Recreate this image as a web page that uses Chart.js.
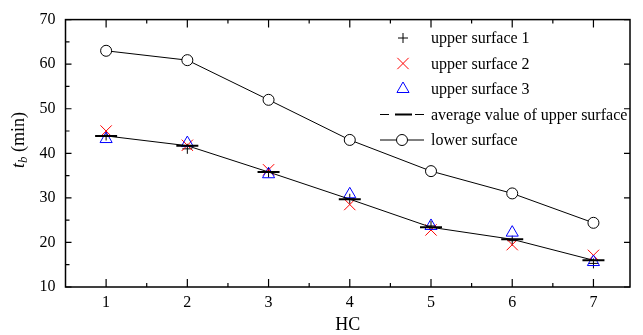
<!DOCTYPE html>
<html>
<head>
<meta charset="utf-8">
<script src="https://cdn.jsdelivr.net/npm/chart.js"></script>
<style>
  html, body { margin: 0; padding: 0; background: #fff; }
  #wrap { width: 643px; height: 335px; }
</style>
</head>
<body>
<div id="wrap"><canvas id="tb-chart"></canvas></div>
<script>
// HC 번호 (x축)
const hc = [1, 2, 3, 4, 5, 6, 7];
// 상부 표면 측정값 (min)
const upper1 = [44.0, 41.0, 35.7, 29.8, 23.7, 20.4, 15.3];
const upper2 = [45.0, 41.8, 36.3, 28.5, 22.8, 19.5, 17.1];
const upper3 = [43.2, 42.3, 35.3, 30.8, 23.7, 22.2, 15.6];
const upperAvg = [43.9, 41.7, 35.8, 29.7, 23.4, 20.7, 16.0];
// 하부 표면 (min)
const lower = [63.0, 60.9, 52.0, 43.0, 36.0, 31.0, 24.4];
// 축 눈금
const yTicks = [10, 20, 30, 40, 50, 60, 70];
const yMinor = [15, 25, 35, 45, 55, 65];
const xMinor = [1.5, 2.5, 3.5, 4.5, 5.5, 6.5];

const SERIF = "'Liberation Serif', 'DejaVu Serif', serif";

function toPoints(values) {
  return hc.map((x, i) => ({ x: x, y: values[i] }));
}

const legendItems = [
  { label: 'upper surface 1', style: 'cross', radius: 5, color: '#000' },
  { label: 'upper surface 2', style: 'crossRot', radius: 8, color: '#ff0000' },
  { label: 'upper surface 3', style: 'triangle', radius: 7, color: '#0000ff' },
  { label: 'average value of upper surface', style: 'avg', color: '#000' },
  { label: 'lower surface', style: 'lower', color: '#000' }
];

// 축 테두리, 안쪽 눈금, 범례, 축 제목을 그리는 플러그인
const framePlugin = {
  id: 'frame',
  afterDraw(chart) {
    const ctx = chart.ctx;
    const area = chart.chartArea;
    const xs = chart.scales.x;
    const ys = chart.scales.y;
    ctx.save();
    ctx.strokeStyle = '#000';
    ctx.lineWidth = 1.5;
    ctx.strokeRect(area.left, area.top, area.right - area.left, area.bottom - area.top);

    ctx.lineWidth = 1.2;
    ctx.beginPath();
    hc.forEach(v => {
      const px = xs.getPixelForValue(v);
      ctx.moveTo(px, area.bottom); ctx.lineTo(px, area.bottom - 8);
      ctx.moveTo(px, area.top); ctx.lineTo(px, area.top + 8);
    });
    xMinor.forEach(v => {
      const px = xs.getPixelForValue(v);
      ctx.moveTo(px, area.bottom); ctx.lineTo(px, area.bottom - 4);
      ctx.moveTo(px, area.top); ctx.lineTo(px, area.top + 4);
    });
    yTicks.forEach(v => {
      const py = ys.getPixelForValue(v);
      ctx.moveTo(area.left, py); ctx.lineTo(area.left + 6, py);
      ctx.moveTo(area.right, py); ctx.lineTo(area.right - 6, py);
    });
    yMinor.forEach(v => {
      const py = ys.getPixelForValue(v);
      ctx.moveTo(area.left, py); ctx.lineTo(area.left + 4, py);
    });
    ctx.stroke();

    // 범례
    const mx = 403, tx = 431;
    ctx.font = '16px ' + SERIF;
    ctx.textBaseline = 'middle';
    legendItems.forEach((item, i) => {
      const y = 38 + i * 25.5;
      ctx.strokeStyle = item.color;
      ctx.lineWidth = 1;
      if (item.style === 'avg') {
        ctx.beginPath();
        ctx.moveTo(380, y); ctx.lineTo(389, y);
        ctx.moveTo(415, y); ctx.lineTo(424, y);
        ctx.stroke();
        ctx.lineWidth = 2;
        ctx.beginPath();
        ctx.moveTo(395, y); ctx.lineTo(412, y);
        ctx.stroke();
      } else if (item.style === 'lower') {
        ctx.beginPath();
        ctx.moveTo(380, y); ctx.lineTo(396, y);
        ctx.moveTo(408, y); ctx.lineTo(424, y);
        ctx.stroke();
        ctx.beginPath();
        ctx.arc(402, y, 5.5, 0, Math.PI * 2);
        ctx.stroke();
      } else {
        ctx.fillStyle = 'rgba(0,0,0,0)';
        Chart.helpers.drawPoint(ctx, {
          pointStyle: item.style, radius: item.radius, rotation: 0, borderWidth: 1
        }, mx, y);
      }
      ctx.fillStyle = '#000';
      ctx.fillText(item.label, tx, y + 1);
    });

    // x축 제목
    ctx.fillStyle = '#000';
    ctx.textAlign = 'center';
    ctx.font = '18px ' + SERIF;
    ctx.fillText('HC', (area.left + area.right) / 2, 325);

    // y축 제목: t_b (min)
    ctx.translate(19, 140);
    ctx.rotate(-Math.PI / 2);
    ctx.textAlign = 'left';
    const fItal = 'italic 18px ' + SERIF;
    const fSub = 'italic 13px ' + SERIF;
    const fReg = '18px ' + SERIF;
    ctx.font = fItal; const w1 = ctx.measureText('t').width;
    ctx.font = fSub; const w2 = ctx.measureText('b').width;
    ctx.font = fReg; const w3 = ctx.measureText(' (min)').width;
    let x0 = -(w1 + w2 + w3) / 2;
    ctx.font = fItal; ctx.fillText('t', x0, 0);
    ctx.font = fSub; ctx.fillText('b', x0 + w1, 5);
    ctx.font = fReg; ctx.fillText(' (min)', x0 + w1 + w2, 0);
    ctx.restore();
  }
};

new Chart(document.getElementById('tb-chart'), {
  type: 'scatter',
  data: {
    datasets: [
      {
        label: 'average value of upper surface',
        data: toPoints(upperAvg),
        showLine: true,
        borderColor: '#000',
        borderWidth: 1,
        pointStyle: 'line',
        pointRadius: 11,
        pointBorderWidth: 2,
        pointBorderColor: '#000',
        order: 0
      },
      {
        label: 'lower surface',
        data: toPoints(lower),
        showLine: true,
        borderColor: '#000',
        borderWidth: 1,
        pointStyle: 'circle',
        pointRadius: 5.5,
        pointBorderWidth: 1,
        pointBackgroundColor: '#fff',
        pointBorderColor: '#000',
        order: 1
      },
      {
        label: 'upper surface 3',
        data: toPoints(upper3),
        pointStyle: 'triangle',
        pointRadius: 7,
        pointBorderWidth: 1,
        pointBorderColor: '#0000ff',
        pointBackgroundColor: 'rgba(0,0,0,0)',
        order: 2
      },
      {
        label: 'upper surface 2',
        data: toPoints(upper2),
        pointStyle: 'crossRot',
        pointRadius: 8,
        pointBorderWidth: 1,
        pointBorderColor: '#ff0000',
        order: 3
      },
      {
        label: 'upper surface 1',
        data: toPoints(upper1),
        pointStyle: 'cross',
        pointRadius: 5,
        pointBorderWidth: 1,
        pointBorderColor: '#000',
        order: 4
      }
    ]
  },
  options: {
    responsive: true,
    maintainAspectRatio: false,
    animation: false,
    layout: { padding: { top: 18, right: 5, left: 0, bottom: 0 } },
    scales: {
      x: {
        type: 'linear',
        min: 0.5,
        max: 7.45,
        grid: { display: false, drawTicks: false },
        border: { display: false },
        afterBuildTicks: s => { s.ticks = hc.map(v => ({ value: v })); },
        afterFit: s => { s.height = 48; },
        ticks: {
          padding: 6,
          color: '#000',
          maxRotation: 0,
          font: { family: SERIF, size: 16 }
        }
      },
      y: {
        min: 10,
        max: 70,
        grid: { display: false, drawTicks: false },
        border: { display: false },
        afterBuildTicks: s => { s.ticks = yTicks.map(v => ({ value: v })); },
        afterFit: s => { s.width = 65.5; },
        ticks: {
          padding: 10,
          color: '#000',
          font: { family: SERIF, size: 16 }
        }
      }
    },
    plugins: {
      legend: { display: false },
      tooltip: { enabled: false }
    }
  },
  plugins: [framePlugin]
});
</script>
</body>
</html>
